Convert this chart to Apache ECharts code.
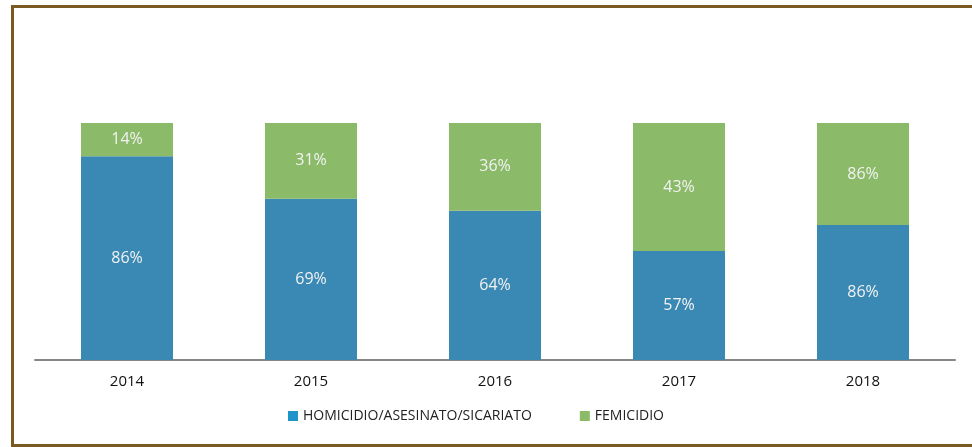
<!DOCTYPE html>
<html>
<head>
<meta charset="utf-8">
<title>Homicidio / Femicidio</title>
<script src="https://cdn.jsdelivr.net/npm/echarts@6/dist/echarts.min.js"></script>
<style>
  html, body { margin: 0; padding: 0; background: #fff; }
  #main { width: 972px; height: 447px; }
</style>
</head>
<body>
<div id="main"></div>
<script>
// categories and values (bar heights, labels as printed)
const years = ['2014', '2015', '2016', '2017', '2018']
const homicidio = [86, 68, 63, 46, 57]
const femicidio = [14, 32, 37, 54, 43]
const homicidioLabels = ['86%', '69%', '64%', '57%', '86%']
const femicidioLabels = ['14%', '31%', '36%', '43%', '86%']

const chart = echarts.init(document.getElementById('main'))

const labelStyle = {
  show: true,
  position: 'inside',
  color: '#f2f2f2',
  fontSize: 16,
  fontFamily: 'Open Sans'
}

const option = {
  animation: false,
  backgroundColor: '#fff',
  grid: { left: 35, right: 17, top: 123, bottom: 87 },
  legend: {
    bottom: 19,
    left: 283,
    itemWidth: 10,
    itemHeight: 10,
    itemGap: 48,
    icon: 'rect',
    textStyle: { fontSize: 14, color: '#222', fontFamily: 'Open Sans' },
    data: [
      { name: 'HOMICIDIO/ASESINATO/SICARIATO', itemStyle: { color: '#2193cb' } },
      { name: 'FEMICIDIO', itemStyle: { color: '#8bba69' } }
    ]
  },
  xAxis: {
    type: 'category',
    data: years,
    axisTick: { show: false },
    axisLine: { lineStyle: { color: '#868686', width: 2 } },
    axisLabel: { color: '#111', fontSize: 15, margin: 14, fontFamily: 'Open Sans' }
  },
  yAxis: {
    type: 'value',
    min: 0,
    max: 100,
    show: false
  },
  series: [
    {
      name: 'HOMICIDIO/ASESINATO/SICARIATO',
      type: 'bar',
      stack: 'total',
      barWidth: '50%',
      data: homicidio,
      itemStyle: { color: '#3a89b4' },
      label: Object.assign({}, labelStyle, {
        formatter: p => homicidioLabels[p.dataIndex]
      })
    },
    {
      name: 'FEMICIDIO',
      type: 'bar',
      stack: 'total',
      barWidth: '50%',
      data: femicidio,
      itemStyle: { color: '#8bba69' },
      label: Object.assign({}, labelStyle, {
        formatter: p => femicidioLabels[p.dataIndex]
      })
    }
  ],
  // brown frame around the picture
  graphic: [
    { type: 'line', shape: { x1: 12.5, y1: 6.5, x2: 972, y2: 6.5 }, style: { stroke: '#7a5a21', lineWidth: 3 } },
    { type: 'line', shape: { x1: 12.5, y1: 5, x2: 12.5, y2: 447 }, style: { stroke: '#7a5a21', lineWidth: 3 } },
    { type: 'line', shape: { x1: 12, y1: 445.5, x2: 972, y2: 445.5 }, style: { stroke: '#7a5a21', lineWidth: 3 } }
  ]
}

chart.setOption(option)
</script>
</body>
</html>
